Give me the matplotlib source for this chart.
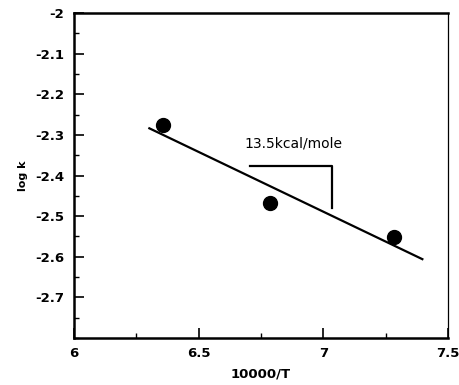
import matplotlib
matplotlib.use("Agg")
import matplotlib.pyplot as plt
from matplotlib.ticker import MultipleLocator

plt.rcParams['font.family'] = ['DejaVu Sans']

x_data = [6.357, 6.786, 7.283]
y_data = [-2.276, -2.468, -2.551]
fit_x = [6.298, 7.401]
fit_y = [-2.2825, -2.607]
bracket_x = [6.706, 7.036, 7.036]
bracket_y = [-2.376, -2.376, -2.481]
annotation = "13.5kcal/mole"
x_ticks = [6, 6.5, 7, 7.5]
x_ticklabels = ["6", "6.5", "7", "7.5"]
y_ticks = [-2, -2.1, -2.2, -2.3, -2.4, -2.5, -2.6, -2.7]
y_ticklabels = ["-2", "-2.1", "-2.2", "-2.3", "-2.4", "-2.5", "-2.6", "-2.7"]

fig = plt.figure(figsize=(4.6, 3.85), dpi=100)
ax = fig.add_axes([0.161, 0.122, 0.813, 0.844])

ax.plot(fit_x, fit_y, color='black', lw=1.6, solid_capstyle='butt')
ax.plot(x_data, y_data, 'o', color='black', markersize=10)
ax.plot(bracket_x, bracket_y, color='black', lw=1.6)
ax.text(6.878, -2.320, annotation, ha='center', va='center', fontsize=10)

ax.set_xlim(6, 7.5)
ax.set_ylim(-2.8, -2)
ax.set_xticks(x_ticks)
ax.set_xticklabels(x_ticklabels)
ax.set_yticks(y_ticks)
ax.set_yticklabels(y_ticklabels)
ax.xaxis.set_minor_locator(MultipleLocator(0.25))
ax.yaxis.set_minor_locator(MultipleLocator(0.05))
ax.tick_params(which='major', direction='in', length=7, width=1.2, labelsize=9.5)
ax.tick_params(axis='y', which='major', pad=7)
ax.tick_params(axis='x', which='major', pad=6.5)
ax.tick_params(which='minor', direction='in', length=3.5, width=1.0)
for lab in ax.get_xticklabels() + ax.get_yticklabels():
    lab.set_fontweight('bold')

for s in ['left', 'bottom', 'top']:
    ax.spines[s].set_linewidth(1.8)
ax.spines['right'].set_linewidth(0.9)

ax.set_xlabel("10000/T", fontsize=9.5, fontweight='bold', labelpad=5)
ax.set_ylabel("log k", fontsize=8, fontweight='bold', labelpad=5)

fig.savefig("out.png", dpi=100)
